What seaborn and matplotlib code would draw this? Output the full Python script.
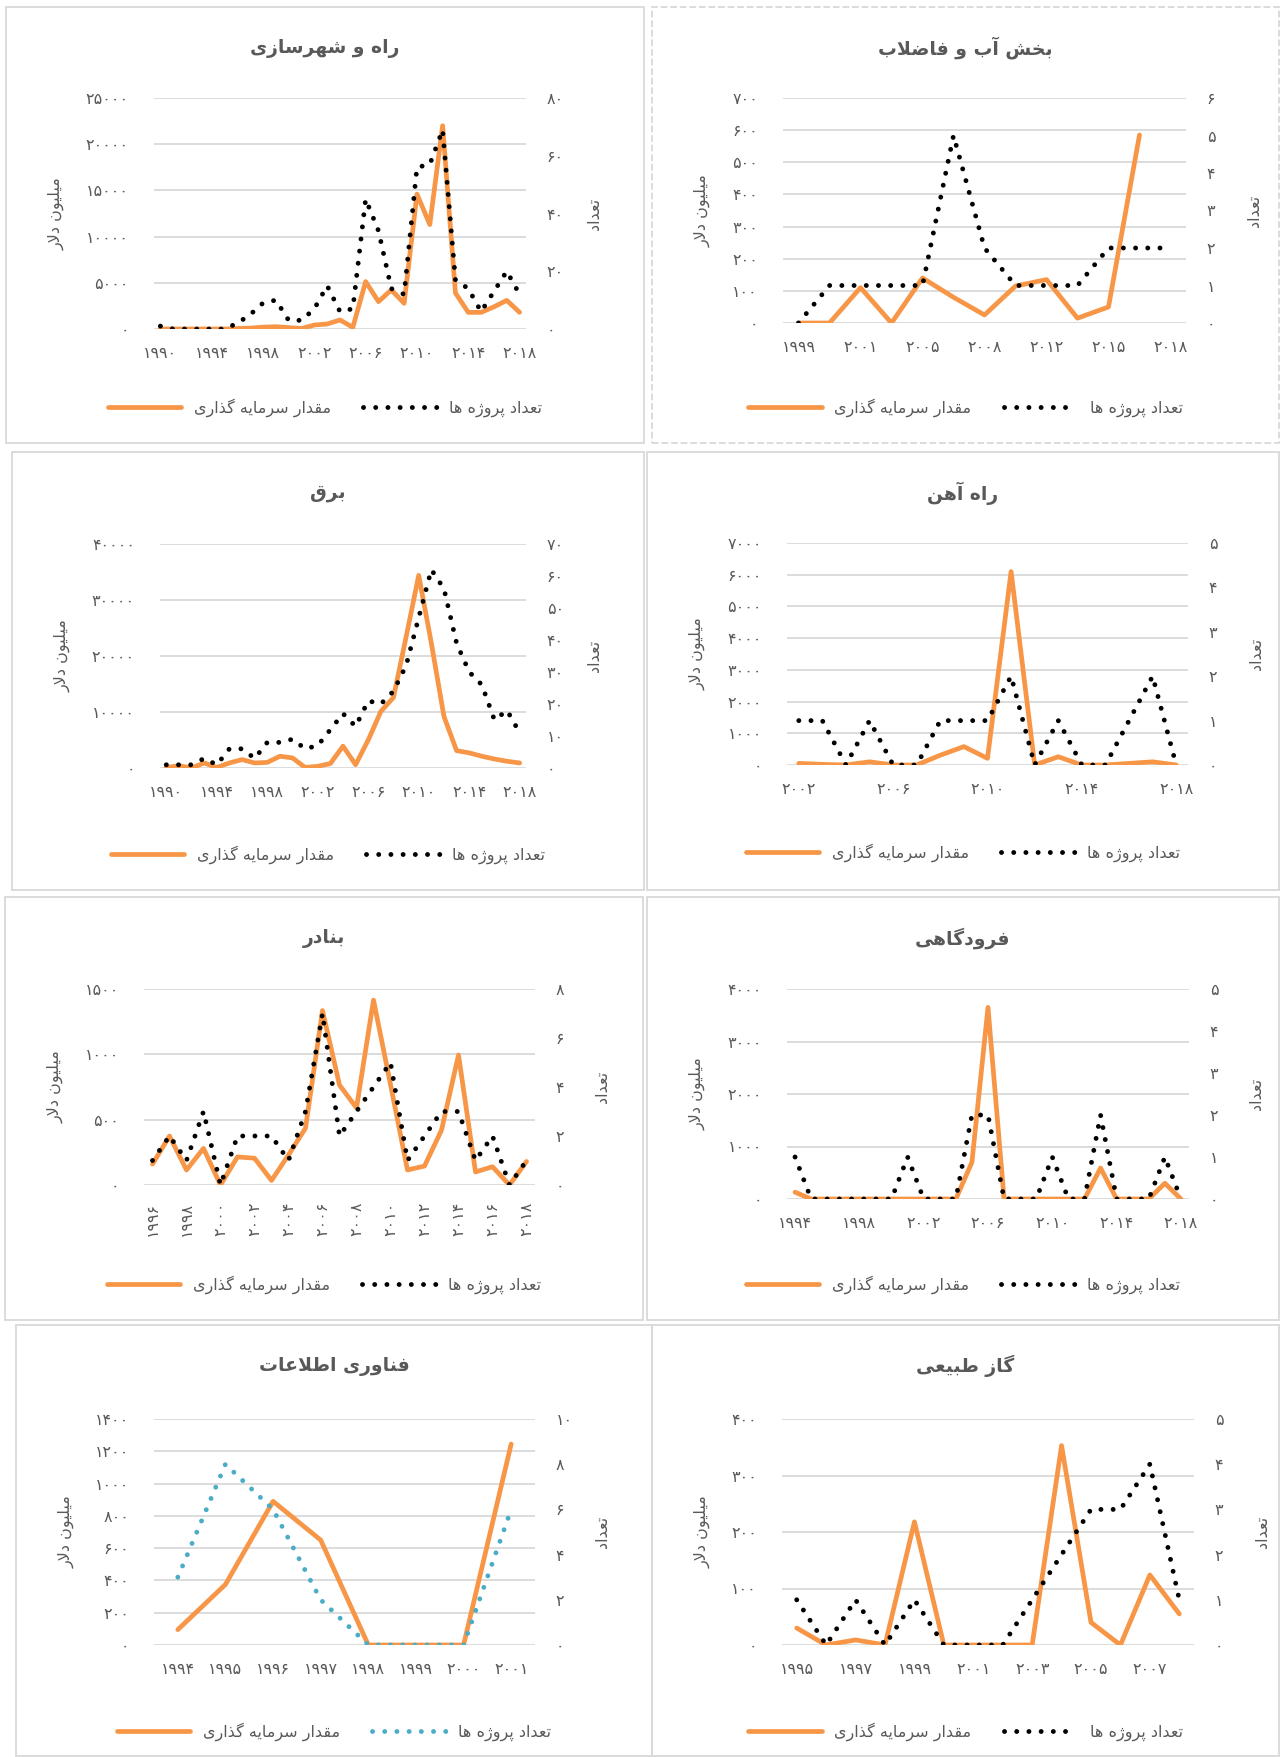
import numpy as np
import pandas as pd
import matplotlib.pyplot as plt
import seaborn as sns
from matplotlib.patches import Rectangle

# ---- Data ----
road_years = list(range(1990, 2019))
road_invest = [0, 0, 0, 0, 0, 0, 50, 100, 200, 250, 150, 50, 430, 540, 980, 180,
               5130, 2960, 4230, 2780, 14600, 11300, 22000, 3900, 1800, 1800, 2400, 3100, 1800]
road_count = [1, 0, 0, 0, 0, 0, 2, 5, 9, 10, 3, 3, 7, 15, 6, 7,
              45, 34, 14, 12, 56, 57, 69, 17, 14, 6, 13, 20, 12]

water_years = [1999, 2000, 2001, 2004, 2005, 2007, 2008, 2010, 2012, 2013, 2015, 2016, 2018]
water_invest = [0, 0, 110, 0, 140, 80, 25, 115, 135, 15, 50, 585, np.nan]
water_count = [0, 1, 1, 1, 1, 5, 2, 1, 1, 1, 2, 2, 2]

power_years = list(range(1990, 2019))
power_invest = [100, 400, 0, 900, 100, 900, 1500, 900, 1000, 2100, 1800, 100, 300, 800, 3900,
                600, 5000, 10100, 12600, 23400, 34400, 22300, 9200, 3100, 2700, 2100, 1600, 1200, 900]
power_count = [1, 1, 1, 3, 1, 6, 6, 3, 8, 8, 9, 6, 7, 12, 17,
               13, 21, 20, 24, 32, 47, 62, 56, 39, 30, 26, 15, 18, 11]

rail_years = list(range(2002, 2019))
rail_invest = [50, 20, 0, 100, 0, 0, 310, 580, 210, 6100, 0, 260, 0, 0, 50, 100, 0]
rail_count = [1, 1, 0, 1, 0, 0, 1, 1, 1, 2, 0, 1, 0, 0, 1, 2, 0]

port_years = list(range(1996, 2019))
port_invest = [160, 375, 115, 280, 0, 215, 205, 35, 230, 435, 1335, 765, 590, 1415,
               770, 115, 145, 420, 995, 100, 140, 0, 180]
port_count = [1, 2, 1, 3, 0, 2, 2, 2, 1, 3, 7, 2, 3, 4, 5, 1, 2, 3, 3, 1, 2, 0, 1]

air_years = list(range(1994, 2019))
air_invest = [130, 0, 0, 0, 0, 0, 0, 0, 0, 0, 0, 700, 3650, 0, 0, 0, 0, 0, 0, 590, 0, 0, 0, 300, 0]
air_count = [1, 0, 0, 0, 0, 0, 0, 1, 0, 0, 0, 2, 2, 0, 0, 0, 1, 0, 0, 2, 0, 0, 0, 1, 0]

it_years = list(range(1994, 2002))
it_invest = [95, 375, 890, 650, 0, 0, 0, 1245]
it_count = [3, 8, 6, 2, 0, 0, 0, 6]

gas_years = list(range(1995, 2009))
gas_invest = [30, 0, 9, 0, 218, 0, 0, 0, 0, 353, 40, 0, 124, 55]
gas_count = [1, 0, 1, 0, 1, 0, 0, 0, 1, 2, 3, 3, 4, 1]

titles = ["راه و شهرسازی", "بخش آب و فاضلاب", "برق", "راه آهن",
          "بنادر", "فرودگاهی", "فناوری اطلاعات", "گاز طبیعی"]
invest_label = "مقدار سرمایه گذاری"
count_label = "تعداد پروژه ها"
left_title = "میلیون دلار"
right_title = "تعداد"

# ---- Persian shaping (matplotlib has no bidi / joining) ----
DUAL = {
    'ب': (0xFE8F, 0xFE90, 0xFE91, 0xFE92), 'پ': (0xFB56, 0xFB57, 0xFB58, 0xFB59),
    'ت': (0xFE95, 0xFE96, 0xFE97, 0xFE98), 'ث': (0xFE99, 0xFE9A, 0xFE9B, 0xFE9C),
    'ج': (0xFE9D, 0xFE9E, 0xFE9F, 0xFEA0), 'ح': (0xFEA1, 0xFEA2, 0xFEA3, 0xFEA4),
    'خ': (0xFEA5, 0xFEA6, 0xFEA7, 0xFEA8), 'س': (0xFEB1, 0xFEB2, 0xFEB3, 0xFEB4),
    'ش': (0xFEB5, 0xFEB6, 0xFEB7, 0xFEB8), 'ص': (0xFEB9, 0xFEBA, 0xFEBB, 0xFEBC),
    'ض': (0xFEBD, 0xFEBE, 0xFEBF, 0xFEC0), 'ط': (0xFEC1, 0xFEC2, 0xFEC3, 0xFEC4),
    'ظ': (0xFEC5, 0xFEC6, 0xFEC7, 0xFEC8), 'ع': (0xFEC9, 0xFECA, 0xFECB, 0xFECC),
    'غ': (0xFECD, 0xFECE, 0xFECF, 0xFED0), 'ف': (0xFED1, 0xFED2, 0xFED3, 0xFED4),
    'ق': (0xFED5, 0xFED6, 0xFED7, 0xFED8), 'ل': (0xFEDD, 0xFEDE, 0xFEDF, 0xFEE0),
    'م': (0xFEE1, 0xFEE2, 0xFEE3, 0xFEE4), 'ن': (0xFEE5, 0xFEE6, 0xFEE7, 0xFEE8),
    'ه': (0xFEE9, 0xFEEA, 0xFEEB, 0xFEEC), 'گ': (0xFB92, 0xFB93, 0xFB94, 0xFB95),
    'ک': (0xFB8E, 0xFB8F, 0xFB90, 0xFB91), 'ی': (0xFEEF, 0xFEF0, 0xFEF3, 0xFEF4),
}
RIGHT = {
    'ا': (0xFE8D, 0xFE8E), 'آ': (0xFE81, 0xFE82), 'د': (0xFEA9, 0xFEAA),
    'ذ': (0xFEAB, 0xFEAC), 'ر': (0xFEAD, 0xFEAE), 'ز': (0xFEAF, 0xFEB0),
    'ژ': (0xFB8A, 0xFB8B), 'و': (0xFEED, 0xFEEE),
}
LAM_ALEF = {'ا': (0xFEFB, 0xFEFC), 'آ': (0xFEF5, 0xFEF6)}


def fa(text):
    out = []
    i = 0
    n = len(text)
    while i < n:
        c = text[i]
        prev = text[i - 1] if i > 0 else ''
        link_prev = prev in DUAL
        if c == 'ل' and i + 1 < n and text[i + 1] in LAM_ALEF:
            forms = LAM_ALEF[text[i + 1]]
            out.append(chr(forms[1] if link_prev else forms[0]))
            i += 2
            continue
        nxt = text[i + 1] if i + 1 < n else ''
        if c in DUAL:
            link_next = nxt in DUAL or nxt in RIGHT
            f = DUAL[c]
            if link_prev and link_next:
                out.append(chr(f[3]))
            elif link_prev:
                out.append(chr(f[1]))
            elif link_next:
                out.append(chr(f[2]))
            else:
                out.append(chr(f[0]))
        elif c in RIGHT:
            f = RIGHT[c]
            out.append(chr(f[1] if link_prev else f[0]))
        else:
            out.append(c)
        i += 1
    return ''.join(reversed(out))


def fa_num(v):
    return str(int(v)).translate(str.maketrans('0123456789', '۰۱۲۳۴۵۶۷۸۹'))


# ---- Style ----
sns.set_style("white")
plt.rcParams['font.family'] = ['DejaVu Sans']

TXT = '#595959'
GRID = '#d9d9d9'
ORANGE = '#f79646'
TEAL = '#4bacc6'
W, H = 1281, 1757

fig = plt.figure(figsize=(W / 100, H / 100), dpi=100)


def fx(x):
    return x / W


def fy(y):
    return 1 - y / H


# layout in pixels: panel box, plot area, axis ranges, label step
panels = [
    dict(years=road_years, invest=road_invest, count=road_count, box=(6, 7, 644, 443),
         plot=(154, 98, 526, 329), left=(25000, 5000), right=(80, 20), step=4, leg=408),
    dict(years=water_years, invest=water_invest, count=water_count, box=(652, 7, 1279, 443),
         plot=(783, 98, 1186, 323), left=(700, 100), right=(6, 1), step=2, leg=408, ls='--'),
    dict(years=power_years, invest=power_invest, count=power_count, box=(12, 452, 644, 890),
         plot=(160, 544, 526, 768), left=(40000, 10000), right=(70, 10), step=4, leg=855),
    dict(years=rail_years, invest=rail_invest, count=rail_count, box=(647, 452, 1279, 890),
         plot=(787, 543, 1188, 765), left=(7000, 1000), right=(5, 1), step=4, leg=853),
    dict(years=port_years, invest=port_invest, count=port_count, box=(5, 897, 643, 1320),
         plot=(144, 989, 535, 1185), left=(1500, 500), right=(8, 2), step=2, leg=1285, rot=90),
    dict(years=air_years, invest=air_invest, count=air_count, box=(647, 897, 1279, 1320),
         plot=(787, 989, 1189, 1199), left=(4000, 1000), right=(5, 1), step=4, leg=1285),
    dict(years=it_years, invest=it_invest, count=it_count, box=(16, 1325, 652, 1756),
         plot=(154, 1419, 535, 1645), left=(1400, 200), right=(10, 2), step=1, leg=1732, dot=TEAL),
    dict(years=gas_years, invest=gas_invest, count=gas_count, box=(652, 1325, 1279, 1756),
         plot=(782, 1419, 1194, 1645), left=(400, 100), right=(5, 1), step=2, leg=1732),
]

for title, p in zip(titles, panels):
    bx0, by0, bx1, by1 = p["box"]
    px0, py0, px1, py1 = p["plot"]
    fig.patches.append(Rectangle((fx(bx0), fy(by1)), fx(bx1 - bx0), (by1 - by0) / H,
                                 transform=fig.transFigure, fill=False,
                                 edgecolor=GRID, lw=1.3, ls=p.get("ls", "-")))

    ax = fig.add_axes([fx(px0), fy(py1), fx(px1 - px0), (py1 - py0) / H])
    n = len(p["years"])
    df = pd.DataFrame({"pos": np.arange(n), "invest": p["invest"], "count": p["count"]})

    sns.lineplot(data=df, x="pos", y="invest", ax=ax, color=ORANGE, lw=3.4,
                 label=fa(invest_label), errorbar=None)
    ax2 = ax.twinx()
    sns.lineplot(data=df, x="pos", y="count", ax=ax2, color=p.get("dot", "black"), lw=3.5,
                 linestyle=(0, (0.01, 2.5)), dash_capstyle="round",
                 label=fa(count_label), errorbar=None)

    h1, l1 = ax.get_legend_handles_labels()
    h2, l2 = ax2.get_legend_handles_labels()
    for a in (ax, ax2):
        if a.get_legend() is not None:
            a.get_legend().remove()

    # axes
    ax.set_xlim(-0.5, n - 0.5)
    top, st = p["left"]
    lt = np.arange(0, top + st, st)
    ax.set_ylim(0, top)
    ax.set_yticks(lt)
    ax.set_yticklabels([fa_num(v) for v in lt])
    top2, st2 = p["right"]
    rt = np.arange(0, top2 + st2, st2)
    ax2.set_ylim(0, top2)
    ax2.set_yticks(rt)
    ax2.set_yticklabels([fa_num(v) for v in rt])

    xt = list(range(0, n, p["step"]))
    ax.set_xticks(xt)
    ax.set_xticklabels([fa_num(p["years"][i]) for i in xt], rotation=p.get("rot", 0))

    ax.grid(axis="y", color=GRID, lw=1.3)
    ax.grid(axis="x", visible=False)
    ax2.grid(False)
    ax.set_axisbelow(True)
    for a in (ax, ax2):
        for s in a.spines.values():
            s.set_visible(False)
        a.set_xlabel("")
        a.set_ylabel("")
    ax.tick_params(axis="y", length=0, pad=18, labelsize=11.5, labelcolor=TXT)
    ax.tick_params(axis="x", length=0, pad=12, labelsize=11.5, labelcolor=TXT)
    ax2.tick_params(axis="y", length=0, pad=15, labelsize=11.5, labelcolor=TXT)

    # texts
    cx = (bx0 + bx1) / 2
    cy = (py0 + py1) / 2
    fig.text(fx(cx), fy(by0 + 41), fa(title), ha="center", va="center",
             fontsize=13.5, fontweight="bold", color=TXT)
    fig.text(fx(bx0 + 50), fy(cy), fa(left_title), rotation=90, ha="center", va="center",
             fontsize=11.5, color=TXT)
    fig.text(fx(px1 + 68), fy(cy), fa(right_title), rotation=90, ha="center", va="center",
             fontsize=11.5, color=TXT)
    fig.legend(h1 + h2, l1 + l2, loc="center", bbox_to_anchor=(fx(cx), fy(p["leg"])),
               ncol=2, frameon=False, fontsize=11.5, labelcolor=TXT, handlelength=4.6,
               handletextpad=0.8, columnspacing=2.0)

fig.savefig("out.png", dpi=100)
